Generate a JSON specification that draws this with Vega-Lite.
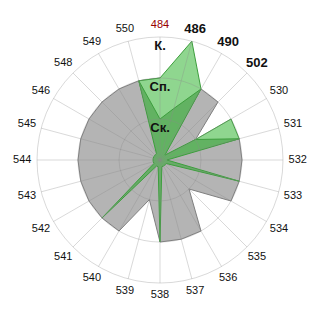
{
  "$schema": "https://vega.github.io/schema/vega-lite/v6.json",
  "width": 320,
  "height": 320,
  "padding": 0,
  "autosize": {"type": "none"},
  "background": "white",
  "config": {"view": {"stroke": null}},
  "datasets": {
    "cats": [
      {"cat": "484", "i": 0, "k": 2, "sp": 2, "sk": 1},
      {"cat": "486", "i": 1, "k": 2, "sp": 3, "sk": 1.3},
      {"cat": "490", "i": 2, "k": 2, "sp": 2, "sk": 2},
      {"cat": "502", "i": 3, "k": 2, "sp": 0, "sk": 0.17},
      {"cat": "530", "i": 4, "k": 1, "sp": 2, "sk": 1},
      {"cat": "531", "i": 5, "k": 2, "sp": 2, "sk": 2},
      {"cat": "532", "i": 6, "k": 2, "sp": 0, "sk": 0.17},
      {"cat": "533", "i": 7, "k": 2, "sp": 0, "sk": 2},
      {"cat": "534", "i": 8, "k": 2, "sp": 0, "sk": 0.17},
      {"cat": "535", "i": 9, "k": 1, "sp": 0, "sk": 0.17},
      {"cat": "536", "i": 10, "k": 2, "sp": 0, "sk": 0.17},
      {"cat": "537", "i": 11, "k": 2, "sp": 0, "sk": 0.17},
      {"cat": "538", "i": 12, "k": 2, "sp": 0, "sk": 2},
      {"cat": "539", "i": 13, "k": 1, "sp": 0, "sk": 0.17},
      {"cat": "540", "i": 14, "k": 2, "sp": 0, "sk": 0.17},
      {"cat": "541", "i": 15, "k": 2, "sp": 0, "sk": 2},
      {"cat": "542", "i": 16, "k": 2, "sp": 0, "sk": 0.17},
      {"cat": "543", "i": 17, "k": 2, "sp": 0, "sk": 0.17},
      {"cat": "544", "i": 18, "k": 2, "sp": 0, "sk": 0.17},
      {"cat": "545", "i": 19, "k": 2, "sp": 0, "sk": 0.17},
      {"cat": "546", "i": 20, "k": 2, "sp": 0, "sk": 0.17},
      {"cat": "548", "i": 21, "k": 2, "sp": 0, "sk": 0.17},
      {"cat": "549", "i": 22, "k": 2, "sp": 0, "sk": 0.17},
      {"cat": "550", "i": 23, "k": 2, "sp": 2, "sk": 2}
    ],
    "rings": [
      {"ring": 1, "name": "Ск."},
      {"ring": 2, "name": "Сп."},
      {"ring": 3, "name": "К."}
    ]
  },
  "layer": [
    {
      "data": {"name": "cats"},
      "transform": [
        {"calculate": "datum.i * PI / 12", "as": "theta"},
        {"calculate": "datum.k * sin(datum.theta)", "as": "px"},
        {"calculate": "datum.k * cos(datum.theta)", "as": "py"}
      ],
      "mark": {"type": "line", "interpolate": "linear-closed", "fill": "#b4b4b4", "stroke": "#7f7f7f", "strokeWidth": 1},
      "encoding": {
        "x": {"field": "px", "type": "quantitative", "scale": {"domain": [-3.9024, 3.9024], "nice": false, "zero": false}, "axis": null},
        "y": {"field": "py", "type": "quantitative", "scale": {"domain": [-3.9024, 3.9024], "nice": false, "zero": false}, "axis": null},
        "order": {"field": "i", "type": "quantitative"}
      }
    },
    {
      "data": {"name": "cats"},
      "transform": [
        {"calculate": "datum.i * PI / 12", "as": "theta"},
        {"calculate": "datum.sp * sin(datum.theta)", "as": "px"},
        {"calculate": "datum.sp * cos(datum.theta)", "as": "py"}
      ],
      "mark": {"type": "line", "interpolate": "linear-closed", "fill": "#8fd68f", "stroke": "#3d9e3d", "strokeWidth": 1},
      "encoding": {
        "x": {"field": "px", "type": "quantitative"},
        "y": {"field": "py", "type": "quantitative"},
        "order": {"field": "i", "type": "quantitative"}
      }
    },
    {
      "data": {"name": "cats"},
      "transform": [
        {"calculate": "datum.i * PI / 12", "as": "theta"},
        {"calculate": "datum.sk * sin(datum.theta)", "as": "px"},
        {"calculate": "datum.sk * cos(datum.theta)", "as": "py"}
      ],
      "mark": {"type": "line", "interpolate": "linear-closed", "fill": "#62b262", "stroke": "#3d9e3d", "strokeWidth": 1},
      "encoding": {
        "x": {"field": "px", "type": "quantitative"},
        "y": {"field": "py", "type": "quantitative"},
        "order": {"field": "i", "type": "quantitative"}
      }
    },
    {
      "data": {"name": "rings"},
      "transform": [
        {"calculate": "0", "as": "cx"},
        {"calculate": "0", "as": "cy"}
      ],
      "mark": {"type": "point", "shape": "circle", "filled": false, "stroke": "#888888", "strokeOpacity": 0.32, "strokeWidth": 1, "opacity": 1},
      "encoding": {
        "x": {"field": "cx", "type": "quantitative"},
        "y": {"field": "cy", "type": "quantitative"},
        "size": {"field": "ring", "type": "quantitative", "scale": {"type": "pow", "exponent": 2, "domain": [0, 3], "range": [0, 60516], "zero": true}, "legend": null}
      }
    },
    {
      "data": {"name": "cats"},
      "transform": [
        {"calculate": "datum.i * PI / 12", "as": "theta"},
        {"calculate": "0", "as": "cx"},
        {"calculate": "0", "as": "cy"},
        {"calculate": "3 * sin(datum.theta)", "as": "sx"},
        {"calculate": "3 * cos(datum.theta)", "as": "sy"}
      ],
      "mark": {"type": "rule", "stroke": "#888888", "strokeOpacity": 0.32, "strokeWidth": 1},
      "encoding": {
        "x": {"field": "cx", "type": "quantitative"},
        "y": {"field": "cy", "type": "quantitative"},
        "x2": {"field": "sx"},
        "y2": {"field": "sy"}
      }
    },
    {
      "data": {"name": "cats"},
      "transform": [
        {"filter": "indexof(['486','490','502'], datum.cat) < 0"},
        {"calculate": "datum.i * PI / 12", "as": "theta"},
        {"calculate": "3.29 + 0.07 * abs(sin(datum.theta))", "as": "lr"},
        {"calculate": "datum.lr * sin(datum.theta)", "as": "lx"},
        {"calculate": "datum.lr * cos(datum.theta)", "as": "ly"}
      ],
      "mark": {"type": "text", "font": "Liberation Sans", "fontSize": 11, "align": "center", "baseline": "middle"},
      "encoding": {
        "x": {"field": "lx", "type": "quantitative"},
        "y": {"field": "ly", "type": "quantitative"},
        "text": {"field": "cat", "type": "nominal"},
        "color": {"condition": {"test": "datum.cat === '484'", "value": "#990000"}, "value": "#111111"}
      }
    },
    {
      "data": {"name": "cats"},
      "transform": [
        {"filter": "indexof(['486','490','502'], datum.cat) >= 0"},
        {"calculate": "datum.i * PI / 12", "as": "theta"},
        {"calculate": "3.29 + 0.07 * abs(sin(datum.theta))", "as": "lr"},
        {"calculate": "datum.lr * sin(datum.theta)", "as": "lx"},
        {"calculate": "datum.lr * cos(datum.theta)", "as": "ly"}
      ],
      "mark": {"type": "text", "font": "Liberation Sans", "fontSize": 13, "fontWeight": "bold", "align": "center", "baseline": "middle", "color": "#111111"},
      "encoding": {
        "x": {"field": "lx", "type": "quantitative"},
        "y": {"field": "ly", "type": "quantitative"},
        "text": {"field": "cat", "type": "nominal"}
      }
    },
    {
      "data": {"name": "rings"},
      "transform": [
        {"calculate": "0", "as": "cx"}
      ],
      "mark": {"type": "text", "font": "Liberation Sans", "fontWeight": "bold", "fontSize": 13, "align": "center", "baseline": "middle", "dy": 9, "color": "#111111"},
      "encoding": {
        "x": {"field": "cx", "type": "quantitative"},
        "y": {"field": "ring", "type": "quantitative"},
        "text": {"field": "name", "type": "nominal"}
      }
    }
  ]
}
